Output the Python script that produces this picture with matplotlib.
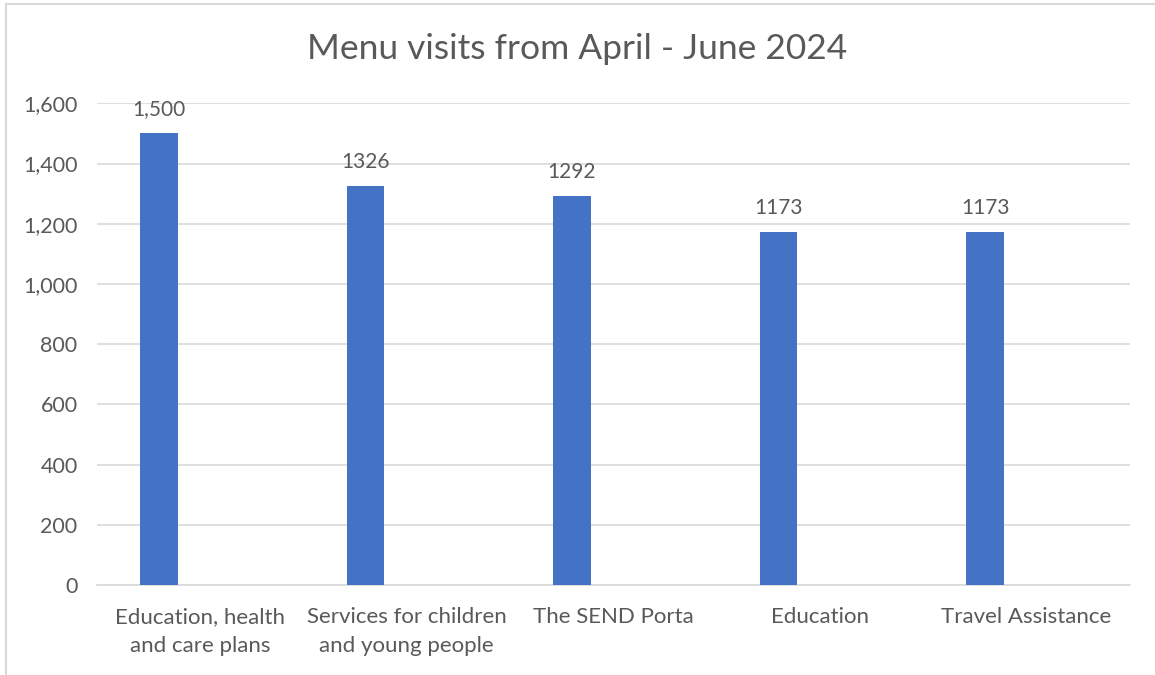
import matplotlib.pyplot as plt
from matplotlib.patches import Rectangle
from matplotlib.ticker import FuncFormatter
import numpy as np

# data
categories = ['Education, health\nand care plans', 'Services for children\nand young people',
              'The SEND Porta', 'Education', 'Travel Assistance']
visits = [1500, 1326, 1292, 1173, 1173]
value_labels = ['1,500', '1326', '1292', '1173', '1173']

plt.rcParams['font.family'] = ['Lato', 'DejaVu Sans']
text_color = '#595959'
bar_color = '#4472C4'
grid_color = '#D9D9D9'

fig = plt.figure(figsize=(11.55, 6.75), dpi=100)
ax = fig.add_axes([0.084, 0.133, 0.894, 0.714])

x = np.arange(len(categories))
bars = ax.bar(x - 0.2, visits, width=0.18, color=bar_color, zorder=3)
for b, lab in zip(bars, value_labels):
    ax.annotate(lab, (b.get_x() + b.get_width() / 2, b.get_height()),
                xytext=(0, 10), textcoords='offset points',
                ha='center', va='bottom', fontsize=15, color=text_color)

ax.set_xlim(-0.5, len(categories) - 0.5)
ax.set_ylim(0, 1600)
ax.set_yticks(np.arange(0, 1601, 200))
ax.yaxis.set_major_formatter(FuncFormatter(lambda v, p: f'{int(v):,}'))
ax.set_xticks(x)
ax.set_xticklabels(categories, fontsize=16, color=text_color, linespacing=1.55)
ax.tick_params(axis='y', labelsize=15.5, labelcolor=text_color, length=0, pad=14)
ax.tick_params(axis='x', length=0, pad=16)
ax.grid(axis='y', color=grid_color, linewidth=1.2, zorder=0)
for s in ['top', 'right', 'left']:
    ax.spines[s].set_visible(False)
ax.spines['bottom'].set_color(grid_color)
ax.spines['bottom'].set_linewidth(1.2)

fig.text(0.5, 0.928, 'Menu visits from April - June 2024', ha='center', va='center',
         fontsize=25.5, color=text_color)

# chart border (left and top visible)
fig.patches.append(Rectangle((6 / 1155, -0.02), 1.1, 1 - 4 / 675 + 0.02,
                             transform=fig.transFigure, fill=False,
                             edgecolor='#D9D9D9', linewidth=1.5))

fig.savefig('out.png', dpi=100, facecolor='white')
